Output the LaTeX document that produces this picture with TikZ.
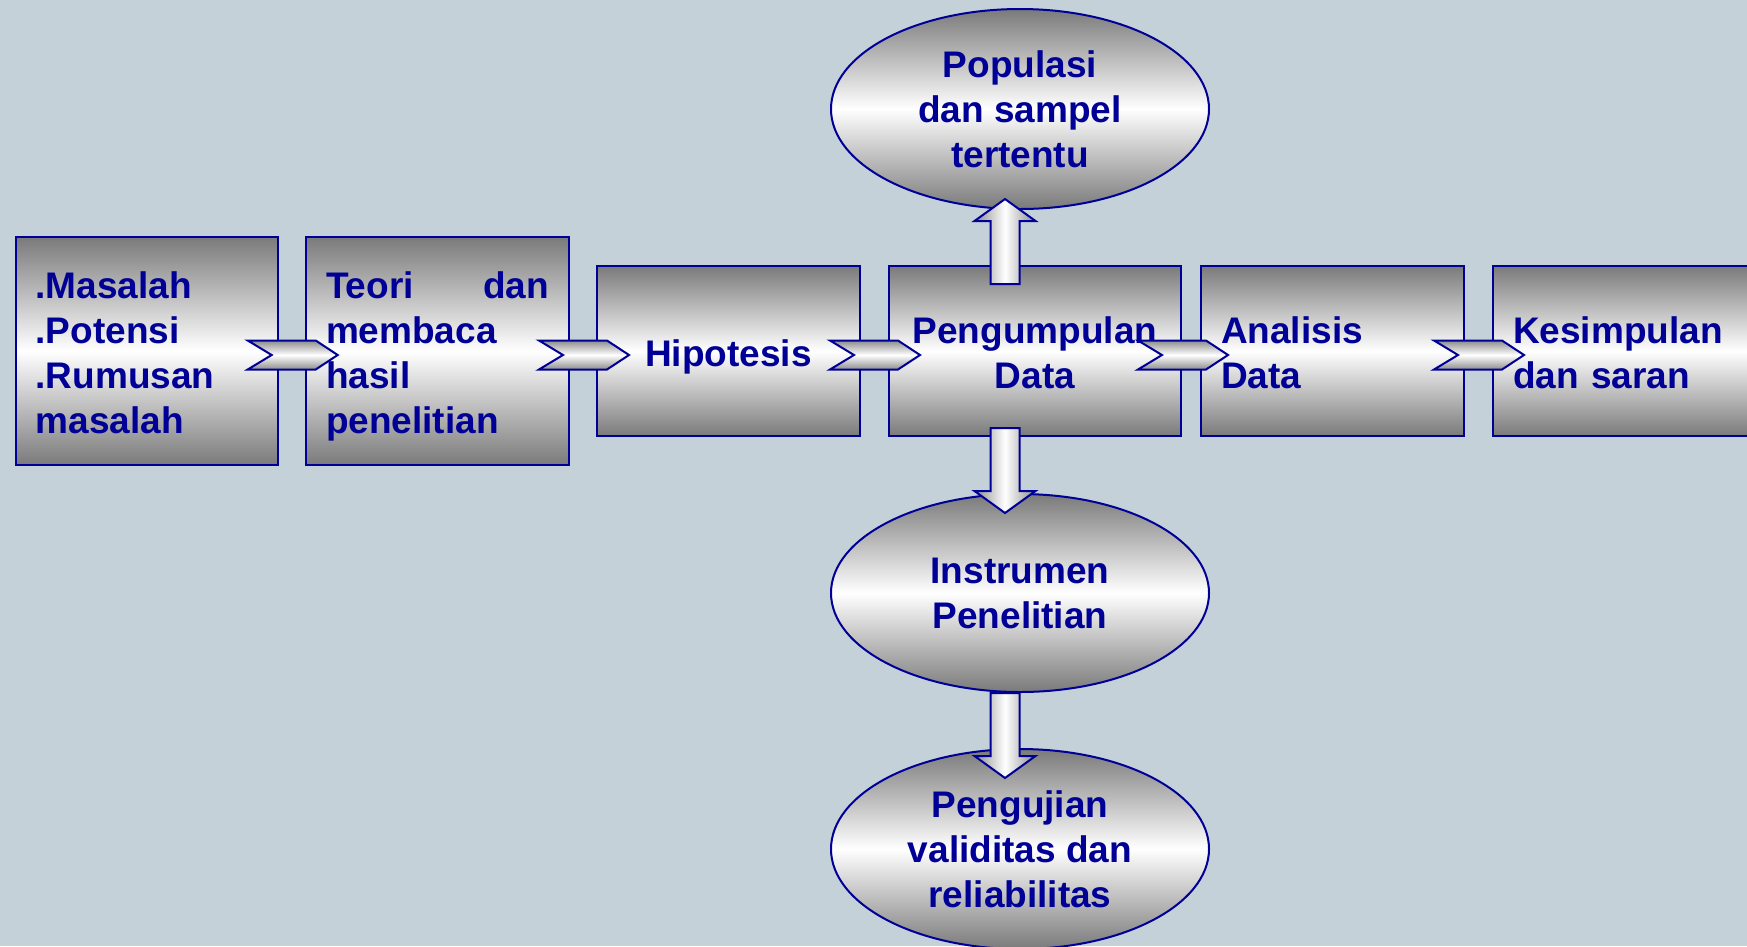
\documentclass[tikz,border=0pt]{standalone}
\usepackage{fontspec}
\setmainfont{Liberation Sans}
\usetikzlibrary{shapes.geometric,calc}
\definecolor{bgc}{RGB}{197,209,217}
\definecolor{navy}{RGB}{0,0,150}
\definecolor{boxgray}{RGB}{122,122,122}
\definecolor{argray}{RGB}{140,140,140}
\newcommand\boxtxt[1]{\rule{0pt}{39.4pt}#1\rule[-9pt]{0pt}{9pt}}
\begin{document}
\begin{tikzpicture}[x=1pt,y=-1pt,
  every node/.style={font=\fontsize{37}{45}\selectfont\bfseries, text=navy},
  box/.style={rectangle, draw=navy, line width=2pt, top color=boxgray, bottom color=boxgray, middle color=white,
    inner xsep=20pt, inner ysep=0pt, minimum height=#1},
  ell/.style={ellipse, draw=navy, line width=2pt, top color=boxgray, bottom color=boxgray, middle color=white,
    minimum width=378pt, minimum height=#1, inner sep=0pt, align=center},
  chev/.pic={\draw[draw=navy, line width=2pt, top color=argray, bottom color=argray, middle color=white]
     (0,-14.5) -- (68,-14.5) -- (90,0) -- (68,14.5) -- (0,14.5) -- (24,0) -- cycle;},
  varrow/.pic={\draw[draw=navy, line width=2pt, left color=argray, right color=argray, middle color=white]
     (-14.5,0) -- (14.5,0) -- (14.5,63) -- (30.5,63) -- (0,85) -- (-30.5,63) -- (-14.5,63) -- cycle;}
]
\clip (0,0) rectangle (1747,946);
\fill[bgc] (0,0) rectangle (1747,946);

\node[box=228pt, text width=222pt, align=left] (b1) at (146.7,351) {\boxtxt{.Masalah\\.Potensi\\.Rumusan\\masalah}};
\node[box=228pt, text width=223pt, align=left] (b2) at (437.5,351) {\boxtxt{Teori\hfill dan\\membaca\\hasil\\penelitian}};
\node[box=170pt, text width=223pt, align=center] (b3) at (728.5,351) {\boxtxt{Hipotesis}};
\node[box=170pt, text width=252pt, align=center] (b4) at (1035,351) {\boxtxt{Pengumpulan\\Data}};
\node[box=170pt, text width=223pt, align=left] (b5) at (1332.5,351) {\boxtxt{Analisis\\Data}};
\node[box=170pt, text width=223pt, align=left] (b6) at (1624.5,351) {\boxtxt{Kesimpulan\\dan saran}};

\node[ell=200pt] (e1) at (1020,109) {Populasi\\dan sampel\\tertentu};
\node[ell=198pt] (e2) at (1020,593) {Instrumen\\Penelitian};
\node[ell=200pt] (e3) at (1020,849) {Pengujian\\validitas dan\\reliabilitas};

\pic at ($(b1.east)+(-31,4)$) {chev};
\pic at ($(b2.east)+(-31,4)$) {chev};
\pic at ($(b3.east)+(-31,4)$) {chev};
\pic at ($(b4.east)+(-44,4)$) {chev};
\pic at ($(b5.east)+(-31,4)$) {chev};

\pic[rotate=180] at ($(b4.north)+(-30,19)$) {varrow};
\pic at ($(b4.south)+(-30,-9)$) {varrow};
\pic at ($(e2.south)+(-15,0)$) {varrow};
\end{tikzpicture}
\end{document}
